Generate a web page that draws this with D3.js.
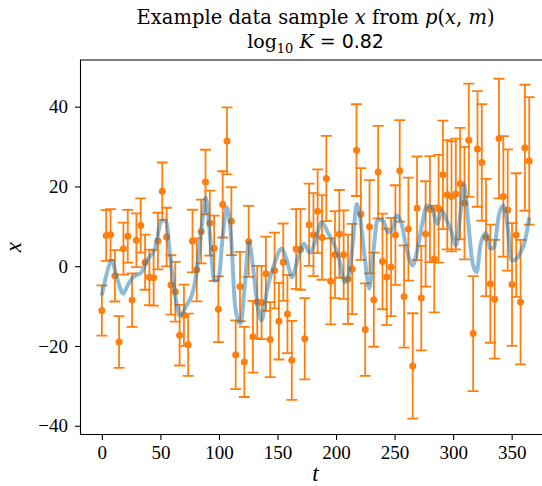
<!DOCTYPE html>
<html>
<head>
<meta charset="utf-8">
<script src="https://cdn.jsdelivr.net/npm/d3@7"></script>
<style>
body{margin:0;background:#fff}
svg{display:block}
</style>
</head>
<body>
<div id="chart"></div>
<script>

const times = [0,3.7,7.4,11.1,14.7,18.4,22.1,25.8,29.5,33.2,36.9,40.6,44.2,47.9,51.6,55.3,59.0,62.7,66.4,70.1,
	73.7,77.4,81.1,84.8,88.5,92.2,95.9,99.5,103.2,106.9,110.6,114.3,118.0,121.7,125.4,129.0,132.7,136.4,140.1,143.8,
	147.5,151.2,154.9,158.5,162.2,165.9,169.6,173.3,177.0,180.7,184.3,188.0,191.7,195.4,199.1,202.8,206.5,210.2,213.8,217.5,
	221.2,224.9,228.6,232.3,236.0,239.7,243.3,247.0,250.7,254.4,258.1,261.8,265.5,269.2,272.8,276.5,280.2,283.9,287.6,291.3,
	295.0,298.6,302.3,306.0,309.7,313.4,317.1,320.8,324.5,328.1,331.8,335.5,339.2,342.9,346.6,350.3,353.9,357.6,361.3,365.0];

const values = [-11.1,7.7,7.9,-2.4,-19.0,4.4,7.5,-8.5,6.5,10.2,1.0,-2.8,-2.9,6.3,18.8,7.3,-4.7,-6.4,-17.3,-12.3,
	-19.7,6.3,-0.9,8.7,21.1,10.8,4.5,-10.8,15.5,31.4,11.3,-22.2,-5.1,-24.0,6.2,-17.7,-9.0,-9.1,-1.9,-18.4,
	-1.1,-13.8,1.0,-12.0,-23.6,4.3,4.2,-18.2,10.4,7.9,13.8,7.2,22.0,-3.8,2.9,8.1,2.9,-3.3,-0.7,29.1,
	13.1,-15.9,9.9,-8.4,23.6,1.2,-2.7,-0.2,7.8,23.9,-7.6,9.3,-25.0,14.5,-8.0,8.1,14.3,1.8,14.4,22.9,
	17.9,17.5,18.1,20.7,15.8,31.6,-16.9,29.4,26.0,7.2,-4.4,-8.3,32.0,17.5,14.1,-4.6,7.8,-9.0,29.7,26.4];

const errors = [6.3,6.35,6.4,6.45,6.5,6.5,6.6,6.7,6.75,6.8,6.9,6.95,7.0,7.1,7.2,7.35,7.45,7.5,7.6,7.7,
	7.8,7.85,7.9,8.0,8.1,8.15,8.2,8.25,8.3,8.4,8.5,8.6,8.7,8.8,8.9,9.0,9.1,9.2,9.3,9.4,
	9.5,9.6,9.7,9.8,9.9,10.0,10.1,10.2,10.3,10.4,10.5,10.6,10.7,10.8,10.9,11.0,11.1,11.2,11.3,11.5,
	11.5,11.6,11.7,11.8,11.6,12.0,12.1,12.3,12.5,12.7,12.8,12.9,13.2,13.0,13.1,13.2,13.3,13.4,13.5,13.6,
	13.7,13.8,13.9,14.0,14.1,14.2,14.4,14.5,14.6,14.7,14.8,14.9,15.0,15.1,15.2,15.4,15.5,15.6,15.8,16.0];

// smooth model curve
const curveT = [0,4,8.3,13,18.2,22,26.7,33.9,38.2,45.3,51,54.7,58.1,62.4,66.6,72.3,78,81.4,85.2,88.6,
	92.3,95.9,99.4,103.4,106.7,110.5,113.6,116.5,118.5,122,125.6,129,132.5,136.4,141,147.8,153.5,158,162.3,167,
	172.5,177.7,182,187.7,193.3,199,202,207.8,211,214.5,217.6,220.5,224.5,228.4,232,235.3,240,244,248,251.7,
	256,260,265.3,269,273,277.8,282,286.5,290.5,294.7,298.3,302.5,306.5,309.3,312.8,316.7,320.1,323.5,327.8,332,
	335,339,342.8,346.6,350,354,357.7,361.4,365];
const curveX = [-7.3,-2,1.4,-3,-6.9,-4.8,-2.75,-1.5,1.4,4.35,11.4,11.4,3.1,-6.9,-12.3,-9.8,-6.1,-0.2,9.75,17.2,
	8,-3.6,-3.4,8,14.75,6.8,-9.4,-13.6,-14.4,-5,6.0,0,-9,-13.6,-6,1,4.35,1.5,-2.75,1.5,
	5.6,3.3,6,11,8.3,5,2.5,-4,-2,6.4,15.6,12.3,2.25,-5.65,3.9,11.6,11.6,8.5,9,12.7,
	10.6,4.75,0.2,3.5,9.75,15.2,14.5,10.6,13.9,11.4,8.9,5.2,14,20.6,11.4,0.6,-1.5,5.6,8.35,4.35,
	4.75,12.7,15.2,9.75,1.4,1.85,3.5,6.4,12.25];

const xTicks = [0,50,100,150,200,250,300,350];
const yTicks = [-40,-20,0,20,40];

const W = 542, H = 486;
const plotL = 80.5, plotT = 60, plotB = 434.5, plotR = 550.6;
const serif = '"Liberation Serif", "DejaVu Serif", serif';
const titleFont = '"DejaVu Serif", serif';

const scaleX = d3.scaleLinear().domain([-18.25, 383.25]).range([plotL, plotR]);
const scaleY = d3.scaleLinear().domain([-42.2, 51.7]).range([plotB, plotT]);

const svg = d3.select('#chart')
	.append('svg')
	.attr('width', W)
	.attr('height', H);

svg.append('defs').append('clipPath')
	.attr('id', 'plot-clip')
	.append('rect')
	.attr('x', plotL).attr('y', plotT)
	.attr('width', plotR - plotL).attr('height', plotB - plotT);

const pts = times.map((t, i) => ({t: t, v: values[i], e: errors[i]}));

const plot = svg.append('g')
	.attr('class', 'plot')
	.attr('clip-path', 'url(#plot-clip)');

//error bars
const bars = plot.append('g')
	.attr('class', 'errorbars')
	.style('stroke', '#ff7f0e')
	.style('stroke-width', '1.8px');

bars.selectAll('line.bar')
	.data(pts)
	.join('line')
	.attr('class', 'bar')
	.attr('x1', d => scaleX(d.t)).attr('x2', d => scaleX(d.t))
	.attr('y1', d => scaleY(d.v - d.e)).attr('y2', d => scaleY(d.v + d.e));

bars.selectAll('line.cap-top')
	.data(pts)
	.join('line')
	.attr('class', 'cap-top')
	.attr('x1', d => scaleX(d.t) - 5.5).attr('x2', d => scaleX(d.t) + 5.5)
	.attr('y1', d => scaleY(d.v + d.e)).attr('y2', d => scaleY(d.v + d.e));

bars.selectAll('line.cap-bot')
	.data(pts)
	.join('line')
	.attr('class', 'cap-bot')
	.attr('x1', d => scaleX(d.t) - 5.5).attr('x2', d => scaleX(d.t) + 5.5)
	.attr('y1', d => scaleY(d.v - d.e)).attr('y2', d => scaleY(d.v - d.e));

plot.append('g')
	.attr('class', 'markers')
	.selectAll('circle')
	.data(pts)
	.join('circle')
	.attr('cx', d => scaleX(d.t))
	.attr('cy', d => scaleY(d.v))
	.attr('r', 3.5)
	.style('fill', '#ff7f0e');

//model curve, semi-transparent over the bars
const lineGenerator = d3.line()
	.x(d => scaleX(d[0]))
	.y(d => scaleY(d[1]))
	.curve(d3.curveMonotoneX);

plot.append('path')
	.datum(curveT.map((t, i) => [t, curveX[i]]))
	.attr('d', lineGenerator)
	.style('fill', 'none')
	.style('stroke', '#1f77b4')
	.style('stroke-opacity', 0.5)
	.style('stroke-width', '4px')
	.style('stroke-linejoin', 'round');

//axes
const axisX = d3.axisBottom(scaleX).tickValues(xTicks).tickSize(5.5).tickPadding(6);
const axisY = d3.axisLeft(scaleY).tickValues(yTicks).tickSize(5.5).tickPadding(7);

svg.append('g')
	.attr('class', 'axis axis-x')
	.attr('transform', `translate(0, ${plotB})`)
	.call(axisX);
svg.append('g')
	.attr('class', 'axis axis-y')
	.attr('transform', `translate(${plotL}, 0)`)
	.call(axisY);

svg.selectAll('.axis .domain').remove();
svg.selectAll('.axis line').style('stroke', '#000').style('stroke-width', '1.1px');
svg.selectAll('.axis text')
	.style('font-family', serif)
	.style('font-size', '19px')
	.style('fill', '#000');

//spines (right one falls outside the picture)
svg.append('path')
	.attr('d', `M${plotR},${plotT}H${plotL}V${plotB}H${plotR}`)
	.style('fill', 'none')
	.style('stroke', '#000')
	.style('stroke-width', '1.1px');

//axis labels
svg.append('text')
	.attr('x', (plotL + plotR) / 2)
	.attr('y', 481)
	.attr('text-anchor', 'middle')
	.style('font-family', serif)
	.style('font-style', 'italic')
	.style('font-size', '23px')
	.text('t');

svg.append('text')
	.attr('transform', `translate(21, ${(plotT + plotB) / 2}) rotate(-90)`)
	.attr('text-anchor', 'middle')
	.style('font-family', serif)
	.style('font-style', 'italic')
	.style('font-size', '23px')
	.text('x');

//title
const cx = (plotL + plotR) / 2;
const t1 = svg.append('text')
	.attr('x', cx).attr('y', 24)
	.attr('text-anchor', 'middle')
	.style('font-family', titleFont)
	.style('font-size', '19.5px');
t1.append('tspan').text('Example data sample ');
t1.append('tspan').style('font-style', 'italic').text('x');
t1.append('tspan').text(' from ');
t1.append('tspan').style('font-style', 'italic').text('p');
t1.append('tspan').text('(');
t1.append('tspan').style('font-style', 'italic').text('x');
t1.append('tspan').text(', ');
t1.append('tspan').style('font-style', 'italic').text('m');
t1.append('tspan').text(')');

const t2 = svg.append('text')
	.attr('x', cx).attr('y', 48)
	.attr('text-anchor', 'middle')
	.style('font-family', titleFont)
	.style('font-size', '19px');
t2.append('tspan').text('log');
t2.append('tspan').attr('dy', 5).style('font-size', '13px').text('10');
t2.append('tspan').attr('dy', -5).style('font-style', 'italic').text(' K');
t2.append('tspan').text(' = ');
t2.append('tspan').style('font-family', '"DejaVu Sans", sans-serif').style('font-size', '19px').text('0.82');

</script>
</body>
</html>
